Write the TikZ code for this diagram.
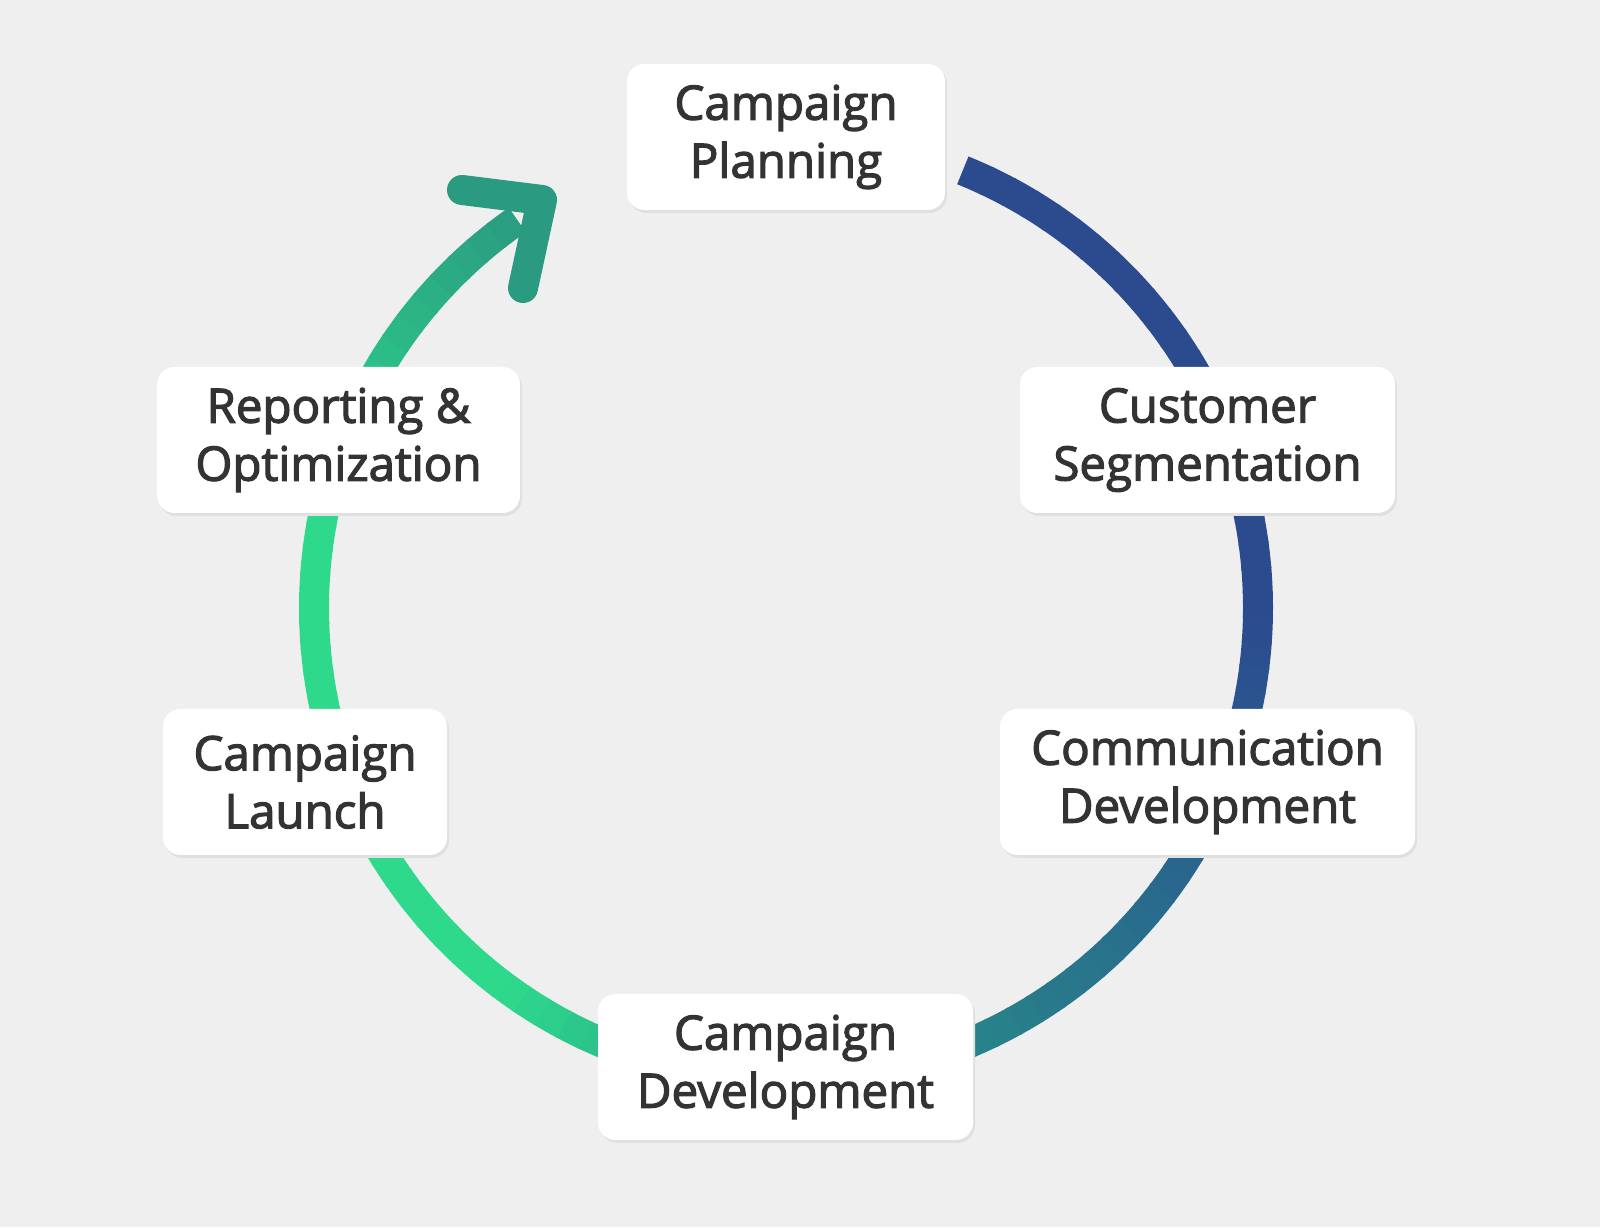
\documentclass[tikz,border=0pt]{standalone}
\usepackage{fontspec}
\setmainfont{Open Sans}[FakeBold=2.5]
\definecolor{bg}{HTML}{EFEFEF}
\definecolor{cb}{HTML}{2B4B8E}
\definecolor{ct}{HTML}{27908A}
\definecolor{cg}{HTML}{2ED98C}
\definecolor{ca}{HTML}{2A9A80}
\definecolor{txt}{HTML}{333333}
\begin{document}
\begin{tikzpicture}[
  box/.style={fill=white, rounded corners=5pt, draw=none,
    text=txt, font=\fontsize{13.5}{16.5}\selectfont, align=center, inner sep=0pt}]
\useasboundingbox[fill=bg] (0,0) rectangle (16,12.27);
\coordinate (C) at (7.86,6.19);
\foreach \a in {68,65,...,-233}{
  \ifdim\a pt>0pt \colorlet{segc}{cb}\else
   \ifdim\a pt>-80pt \pgfmathtruncatemacro{\p}{-\a/80*100}\colorlet{segc}{ct!\p!cb}\else
    \ifdim\a pt>-125pt \pgfmathtruncatemacro{\p}{(-\a-80)/45*100}\colorlet{segc}{cg!\p!ct}\else
     \ifdim\a pt>-190pt \colorlet{segc}{cg}\else
      \pgfmathtruncatemacro{\p}{(-\a-190)/45*100}\colorlet{segc}{ca!\p!cg}\fi\fi\fi\fi
  \draw[segc, line width=0.3cm] ([shift={(\a:4.72)}]C) arc (\a:\a-3.3:4.72);
}
\coordinate (a1) at (4.62,10.37);
\coordinate (a2) at (5.42,10.27);
\coordinate (a3) at (5.23,9.39);
\draw[ca, line width=0.3cm, line cap=round, line join=round] (a1) -- (a2) -- (a3);
\foreach \n/\x/\y/\w/\t in {
  cp/7.86/10.90/3.18/{Campaign\\Planning},
  cs/12.075/7.87/3.75/{Customer\\Segmentation},
  cd/12.075/4.45/4.15/{Communication\\Development},
  cdev/7.855/1.60/3.75/{Campaign\\Development},
  cl/3.05/4.45/2.84/{Campaign\\Launch},
  ro/3.385/7.87/3.63/{Reporting \&\\Optimization}}{
  \fill[black!12, rounded corners=5pt] (\x-\w/2+0.02,\y-0.76) rectangle (\x+\w/2+0.02,\y+0.70);
  \node[box, minimum width=\w cm, minimum height=1.46cm] (\n) at (\x,\y) {\t};
}
\end{tikzpicture}
\end{document}
